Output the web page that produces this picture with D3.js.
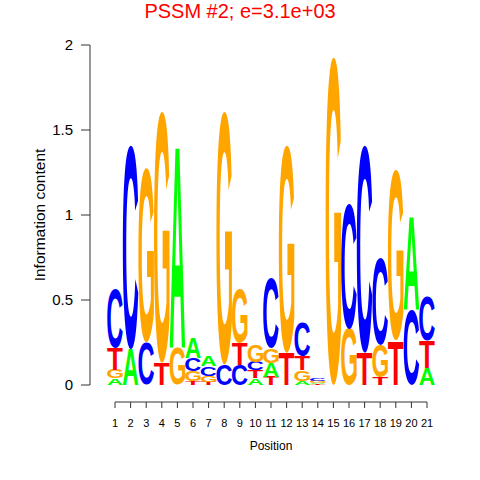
<!DOCTYPE html>
<html>
<head>
<meta charset="utf-8">
<script src="https://cdn.jsdelivr.net/npm/d3@7.9.0/dist/d3.min.js"></script>
<style>
  html, body { margin: 0; padding: 0; background: #fff; }
  svg text { font-family: "Liberation Sans", Arial, sans-serif; }
</style>
</head>
<body>
<svg id="chart" width="480" height="480"></svg>
<script>
const positions = [1, 2, 3, 4, 5, 6, 7, 8, 9, 10, 11, 12, 13, 14, 15, 16, 17, 18, 19, 20, 21];
const bases = ['A', 'C', 'G', 'T'];
const baseColors = ['#00FF00', '#0000FF', '#FFA500', '#FF0000'];

// information content per base
const bitsA = [0.04, 0.21, 0, 0, 1.19, 0.12, 0.06, 0, 0, 0.04, 0.08, 0, 0.025, 0.008, 0, 0, 0, 0, 0, 0.55, 0.1];
const bitsC = [0.35, 1.2, 0.25, 0, 0, 0.08, 0.055, 0.12, 0.12, 0.05, 0.41, 0, 0.2, 0.018, 0, 0.74, 1.22, 0.51, 0, 0.44, 0.26];
const bitsG = [0.05, 0, 1.02, 1.48, 0.22, 0.06, 0.035, 1.49, 0.32, 0.1, 0.085, 1.22, 0.065, 0.012, 1.93, 0.33, 0, 0.19, 1.0, 0, 0];
const bitsT = [0.13, 0, 0, 0.13, 0, 0.02, 0.02, 0, 0.13, 0.045, 0.05, 0.19, 0.08, 0.005, 0, 0, 0.19, 0.045, 0.26, 0, 0.16];

const yTicks = [0, 0.5, 1, 1.5, 2];
const title = 'PSSM #2; e=3.1e+03';

const svg = d3.select('#chart');

const x = d3.scaleLinear().domain([1, 21]).range([115, 427]);
const y = d3.scaleLinear().domain([0, 2]).range([385, 45]);
const colW = x(2) - x(1);

// ink metrics of each glyph, so a letter can be stretched to fill its box
const letterFont = 'bold 100px "Liberation Sans"';
const ctx = document.createElement('canvas').getContext('2d');
ctx.font = letterFont;
const metrics = {};
bases.forEach(b => {
  const m = ctx.measureText(b);
  metrics[b] = {
    left: m.actualBoundingBoxLeft,
    right: m.actualBoundingBoxRight,
    asc: m.actualBoundingBoxAscent,
    desc: m.actualBoundingBoxDescent
  };
});

const allBits = [bitsA, bitsC, bitsG, bitsT];
const stacks = positions.map((p, i) => {
  const items = bases.map((b, k) => ({ base: b, color: baseColors[k], h: allBits[k][i] }))
    .filter(d => d.h > 0)
    .sort((a, b) => a.h - b.h);
  let acc = 0;
  items.forEach(d => { d.y0 = acc; acc += d.h; d.y1 = acc; d.pos = p; });
  return items;
});

const letters = svg.append('g');
stacks.flat().forEach(d => {
  const m = metrics[d.base];
  const x0 = x(d.pos) - colW / 2;
  const top = y(d.y1);
  const h = y(d.y0) - y(d.y1);
  const sx = colW / (m.left + m.right);
  const sy = h / (m.asc + m.desc);
  letters.append('text')
    .attr('transform', `translate(${x0},${top}) scale(${sx},${sy}) translate(${m.left},${m.asc})`)
    .attr('font-size', 100)
    .attr('font-weight', 'bold')
    .attr('fill', d.color)
    .text(d.base);
});

// y axis
const axisColor = '#333';
const yAxis = svg.append('g');
yAxis.append('line')
  .attr('x1', 90).attr('x2', 90)
  .attr('y1', y(0)).attr('y2', y(2))
  .attr('stroke', axisColor);
yAxis.selectAll('.yt').data(yTicks).join('line')
  .attr('x1', 81).attr('x2', 90)
  .attr('y1', d => y(d)).attr('y2', d => y(d))
  .attr('stroke', axisColor);
yAxis.selectAll('.yl').data(yTicks).join('text')
  .attr('x', 73).attr('y', d => y(d))
  .attr('dy', '0.36em')
  .attr('text-anchor', 'end')
  .attr('font-size', 15)
  .text(d => d);
svg.append('text')
  .attr('transform', `translate(45,${y(1)}) rotate(-90)`)
  .attr('text-anchor', 'middle')
  .attr('font-size', 15.5)
  .text('Information content');

// x axis
const xAxis = svg.append('g');
xAxis.append('line')
  .attr('x1', x(1)).attr('x2', x(21))
  .attr('y1', 402).attr('y2', 402)
  .attr('stroke', axisColor);
xAxis.selectAll('.xt').data(positions).join('line')
  .attr('x1', d => x(d)).attr('x2', d => x(d))
  .attr('y1', 402).attr('y2', 408)
  .attr('stroke', axisColor);
xAxis.selectAll('.xl').data(positions).join('text')
  .attr('x', d => x(d)).attr('y', 427)
  .attr('text-anchor', 'middle')
  .attr('font-size', 11)
  .text(d => d);
svg.append('text')
  .attr('x', x(11)).attr('y', 450)
  .attr('text-anchor', 'middle')
  .attr('font-size', 12)
  .text('Position');

svg.append('text')
  .attr('x', 240).attr('y', 18)
  .attr('text-anchor', 'middle')
  .attr('font-size', 20)
  .attr('fill', '#FF0000')
  .text(title);
</script>
</body>
</html>
